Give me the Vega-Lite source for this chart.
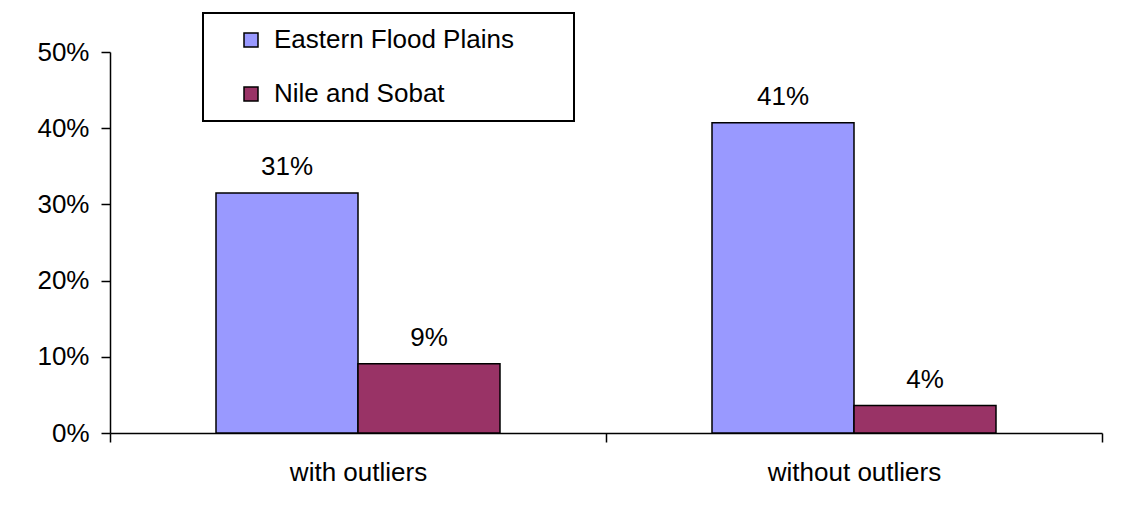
{
  "$schema": "https://vega.github.io/schema/vega-lite/v6.json",
  "width": 992,
  "height": 381,
  "autosize": {"type": "none"},
  "padding": {"left": 110, "top": 52, "right": 33, "bottom": 81},
  "background": "white",
  "config": {
    "font": "Liberation Sans",
    "view": {"stroke": null},
    "legend": {"strokeWidth": 2},
    "axis": {"grid": false, "domainColor": "black", "tickColor": "black", "labelColor": "black", "domainWidth": 1.5, "tickWidth": 1.5, "labelFontSize": 26, "labelFont": "Liberation Sans", "tickSize": 9}
  },
  "data": {
    "values": [
      {"group": "with outliers", "series": "Eastern Flood Plains", "value": 0.315, "label": "31%"},
      {"group": "with outliers", "series": "Nile and Sobat", "value": 0.091, "label": "9%"},
      {"group": "without outliers", "series": "Eastern Flood Plains", "value": 0.407, "label": "41%"},
      {"group": "without outliers", "series": "Nile and Sobat", "value": 0.036, "label": "4%"}
    ]
  },
  "encoding": {
    "x": {
      "field": "group", "type": "nominal", "sort": ["with outliers", "without outliers"],
      "scale": {"paddingInner": 0, "paddingOuter": 0},
      "axis": {"title": null, "labelAngle": 0, "tickBand": "extent", "labelPadding": 17}
    },
    "xOffset": {"field": "series", "type": "nominal", "sort": ["Eastern Flood Plains", "Nile and Sobat"], "scale": {"paddingInner": 0, "paddingOuter": 0.7465}},
    "y": {
      "field": "value", "type": "quantitative",
      "scale": {"domain": [0, 0.5], "nice": false},
      "axis": {"title": null, "format": ".0%", "values": [0, 0.1, 0.2, 0.3, 0.4, 0.5], "labelPadding": 12}
    }
  },
  "layer": [
    {
      "mark": {"type": "bar", "stroke": "black", "strokeWidth": 1.5},
      "encoding": {
        "color": {
          "field": "series", "type": "nominal",
          "scale": {"domain": ["Eastern Flood Plains", "Nile and Sobat"], "range": ["#9999FF", "#993366"]},
          "legend": {
            "title": " ", "titleOrient": "right", "titlePadding": 46, "titleFontSize": 26,
            "orient": "none", "legendX": 93, "legendY": -39,
            "strokeColor": "black", "fillColor": "white",
            "padding": 14, "symbolType": "square", "symbolSize": 196,
            "symbolStrokeColor": "black", "symbolStrokeWidth": 1.5, "symbolOpacity": 1,
            "symbolOffset": 21, "labelFontSize": 26, "labelOffset": 10, "labelColor": "black",
            "labelFont": "Liberation Sans", "rowPadding": 28, "labelLimit": 400
          }
        }
      }
    },
    {
      "mark": {"type": "text", "baseline": "alphabetic", "dy": -18, "fontSize": 26, "color": "black"},
      "encoding": {"text": {"field": "label"}}
    }
  ]
}
